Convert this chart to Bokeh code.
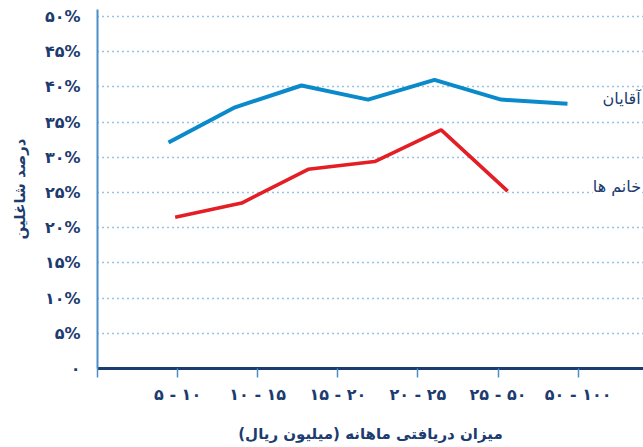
from bokeh.plotting import figure
from bokeh.models import Range1d, FixedTicker, Label
from bokeh.embed import file_html
from bokeh.resources import INLINE

# ---- data ----
y_ticks = [0, 5, 10, 15, 20, 25, 30, 35, 40, 45, 50]
y_tick_labels = ["۰", "۵%", "۱۰%", "۱۵%", "۲۰%", "۲۵%", "۳۰%", "۳۵%", "۴۰%", "۴۵%", "۵۰%"]
x_ticks = [0, 1, 2, 3, 4, 5, 6]
x_tick_labels = ["", "۵ - ۱۰", "۱۰ - ۱۵", "۱۵ - ۲۰", "۲۰ - ۲۵", "۲۵ - ۵۰", "۵۰ - ۱۰۰"]

men_idx = [0, 1, 2, 3, 4, 5, 6]
men_vals = [32.1, 37.1, 40.2, 38.2, 41.0, 38.2, 37.6]
women_idx = [0.1, 1.1, 2.1, 3.1, 4.1, 5.1]
women_vals = [21.5, 23.5, 28.3, 29.4, 33.9, 25.2]

men_label = "آقایان"
women_label = "خانم ها"
y_title = "درصد شاغلین"
x_title = "میزان دریافتی ماهانه (میلیون ریال)"

NAVY = "#1c3b6e"
LIGHT = "#4a90c8"
BLUE = "#0b8acb"
RED = "#e31e24"
FONT = "DejaVu Sans"

p = figure(width=643, height=447, output_backend="svg", toolbar_location=None,
           x_range=Range1d(0, 6.816), y_range=Range1d(0, 51),
           min_border_left=97, min_border_right=0, min_border_top=9,
           min_border_bottom=79, outline_line_color=None)
p.extra_x_ranges = {"idx": Range1d(-1.068, 7.143)}

p.xgrid.visible = False
p.ygrid.ticker = FixedTicker(ticks=y_ticks[1:])
p.ygrid.grid_line_color = "#2f86c8"
p.ygrid.grid_line_dash = "1 4"
p.ygrid.grid_line_width = 1.4

ya = p.yaxis[0]
ya.ticker = FixedTicker(ticks=y_ticks)
ya.major_label_overrides = {t: l for t, l in zip(y_ticks, y_tick_labels)}
ya.axis_line_color = LIGHT
ya.axis_line_width = 2
ya.major_tick_line_color = None
ya.major_tick_out = 0
ya.major_tick_in = 0
ya.minor_tick_line_color = None
ya.minor_tick_out = 0
ya.major_label_text_font = FONT
ya.major_label_text_font_style = "bold"
ya.major_label_text_font_size = "16px"
ya.major_label_text_color = NAVY
ya.major_label_standoff = 17
ya.axis_label = y_title
ya.axis_label_text_font = FONT
ya.axis_label_text_font_style = "bold"
ya.axis_label_text_font_size = "15px"
ya.axis_label_text_color = NAVY
ya.axis_label_standoff = 13

xa = p.xaxis[0]
xa.ticker = FixedTicker(ticks=x_ticks)
xa.major_label_overrides = {t: l for t, l in zip(x_ticks, x_tick_labels)}
xa.axis_line_color = NAVY
xa.axis_line_width = 3
xa.major_tick_line_color = LIGHT
xa.major_tick_line_width = 1.5
xa.major_tick_in = 0
xa.major_tick_out = 9
xa.minor_tick_line_color = None
xa.minor_tick_out = 0
xa.major_label_text_font = FONT
xa.major_label_text_font_style = "bold"
xa.major_label_text_font_size = "16px"
xa.major_label_text_color = NAVY
xa.major_label_standoff = 7
xa.axis_label = x_title
xa.axis_label_text_font = FONT
xa.axis_label_text_font_style = "bold"
xa.axis_label_text_font_size = "15px"
xa.axis_label_text_color = NAVY
xa.axis_label_standoff = 18

p.line(men_idx, men_vals, x_range_name="idx", line_color=BLUE, line_width=4)
p.line(women_idx, women_vals, x_range_name="idx", line_color=RED, line_width=3.6)

p.add_layout(Label(x=6.78, y=38.35, text=men_label, text_align="right",
                   text_baseline="middle", text_font=FONT, text_font_size="16px",
                   text_color=NAVY))
p.add_layout(Label(x=6.785, y=25.85, text=women_label, text_align="right",
                   text_baseline="middle", text_font=FONT, text_font_size="16px",
                   text_color=NAVY, background_fill_color="white"))

open("out.html", "w").write(file_html(p, INLINE))
